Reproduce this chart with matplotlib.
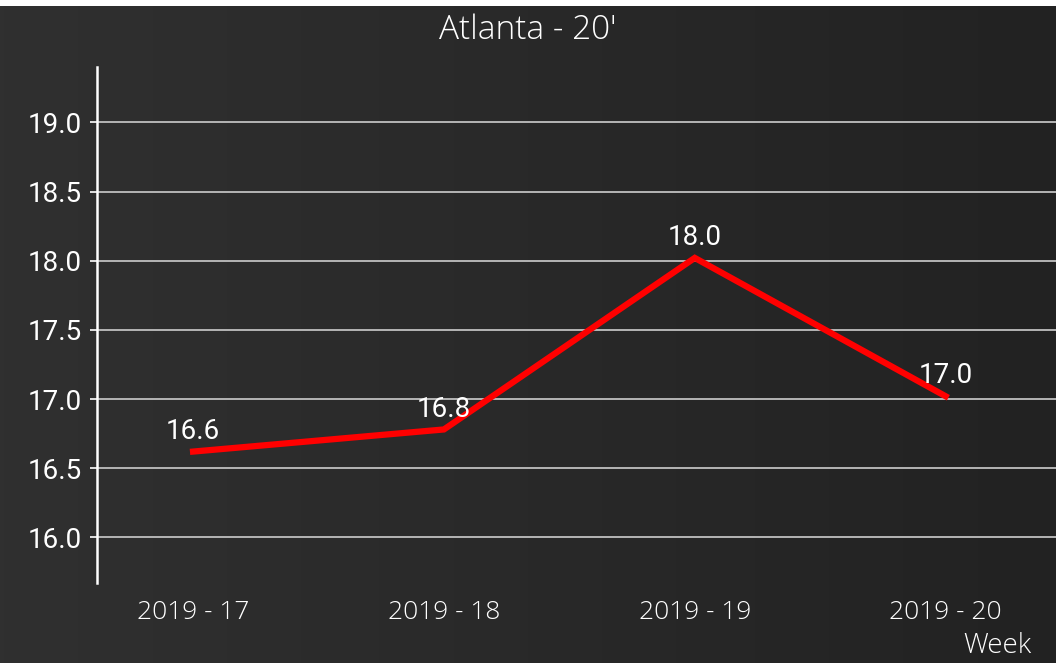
import matplotlib
matplotlib.use("Agg")
import matplotlib.pyplot as plt
from matplotlib.colors import LinearSegmentedColormap
import numpy as np

weeks = ["2019 - 17", "2019 - 18", "2019 - 19", "2019 - 20"]
values = [16.62, 16.78, 18.02, 17.02]
y_ticks = [16.0, 16.5, 17.0, 17.5, 18.0, 18.5, 19.0]

thin = ["Open Sans", "DejaVu Sans"]
plt.rcParams["font.family"] = ["Roboto", "DejaVu Sans"]

fig = plt.figure(figsize=(10.56, 6.63), dpi=100, facecolor="white")

# dark horizontal gradient background, white strip on top
bg = fig.add_axes([0, 0, 1, 1 - 6 / 663], zorder=-10)
grad = np.linspace(0, 1, 256).reshape(1, -1)
cmap = LinearSegmentedColormap.from_list("bg", ["#303030", "#222222"])
bg.imshow(grad, aspect="auto", cmap=cmap, extent=[0, 1, 0, 1])
bg.set_axis_off()

ax = fig.add_axes([97 / 1056, (663 - 583) / 663, (1056 - 97) / 1056, (583 - 67) / 663])
ax.patch.set_alpha(0)
x = np.arange(len(weeks))
ax.plot(x, values, color="#ff0000", linewidth=4.5, solid_joinstyle="miter", zorder=3)

for xi, v in zip(x, values):
    ax.annotate(f"{v:.1f}", (xi, v), xytext=(0, 5), textcoords="offset points",
                ha="center", va="bottom", color="white", fontsize=20)

ax.set_xlim(-0.383, 3.44)
ax.set_ylim(15.67, 19.40)
ax.set_yticks(y_ticks)
ax.set_yticklabels([f"{t:.1f}" for t in y_ticks])
ax.set_xticks(x)
ax.set_xticklabels(weeks, family=thin, fontsize=19, fontweight="light")
ax.tick_params(axis="y", colors="white", labelcolor="white", labelsize=20,
               length=5, width=1.2, pad=6, direction="out")
ax.tick_params(axis="x", length=0, labelcolor="white", pad=12)
ax.grid(axis="y", color="#c0c0c0", linewidth=1.3)
for s in ["top", "right", "bottom"]:
    ax.spines[s].set_visible(False)
ax.spines["left"].set_color("white")
ax.spines["left"].set_linewidth(1.8)

fig.text(0.5, 1 - 30 / 663, "Atlanta - 20'", ha="center", va="center",
         color="white", fontsize=24, family=thin, fontweight="light")
fig.text(997 / 1056, 1 - 646 / 663, "Week", ha="center", va="center",
         color="white", fontsize=20, family=thin, fontweight="light")

fig.savefig("out.png", dpi=100, facecolor=fig.get_facecolor())
